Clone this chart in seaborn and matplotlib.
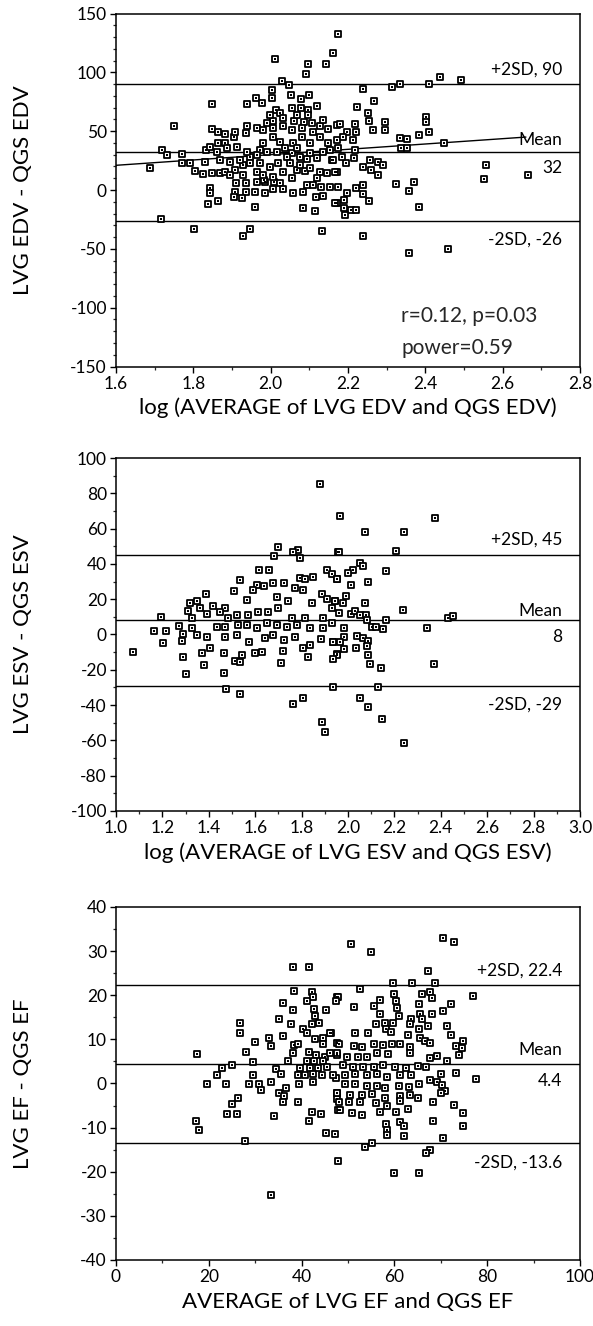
import matplotlib
matplotlib.use("Agg")
import matplotlib.pyplot as plt
import seaborn as sns
from matplotlib.ticker import MultipleLocator, FormatStrFormatter

# ---------------- Panel 1: EDV ----------------
edv_log_avg = [
    2.173, 2.162, 2.012, 2.097, 2.144, 2.092, 2.029, 2.048, 2.003, 2.100, 2.052, 2.079, 2.003, 1.962, 1.847, 1.940, 1.977, 2.013, 2.056, 2.079, 2.097, 2.119,
    1.750, 1.847, 2.007, 2.024, 2.060, 2.087, 2.107, 2.128, 2.149, 2.171, 1.990, 1.964, 1.936, 1.882, 1.905, 1.865, 1.882, 1.833, 1.718, 1.733, 1.770, 1.688,
    1.770, 1.791, 1.830, 1.804, 1.826, 1.847, 1.869, 1.882, 1.908, 1.928, 1.947, 1.972, 1.981, 2.005, 2.024, 2.037, 2.059, 2.081, 2.102, 2.128, 2.149, 2.171,
    2.054, 2.076, 2.093, 2.119, 2.158, 1.998, 2.031, 2.067, 2.089, 2.128, 2.145, 2.171, 1.910, 1.936, 1.964, 1.985, 2.008, 2.024, 1.964, 1.983, 1.843, 1.843,
    1.907, 1.936, 1.960, 1.985, 2.007, 2.033, 2.059, 2.083, 2.093, 2.110, 2.129, 2.153, 2.173, 1.905, 1.926, 2.117, 2.136, 1.838, 1.863, 1.960, 2.084, 2.114,
    2.172, 1.716, 1.803, 1.928, 1.946, 2.132,
    1.860, 1.886, 1.912, 1.938, 1.964, 1.990, 2.016, 2.041, 2.067, 2.102, 2.136, 2.153, 1.869, 1.895, 1.921, 1.947, 1.972, 2.019, 2.050, 2.076, 2.102,
    1.895, 1.929, 1.981, 2.007, 2.054, 2.119, 1.865, 1.907, 1.938, 2.033, 2.054, 2.081, 2.110, 2.007, 1.981, 1.998, 2.097, 2.067, 2.136, 2.033, 1.843,
    2.238, 2.313, 2.334, 2.410, 2.437, 2.491, 2.222, 2.268, 2.251, 2.255, 2.265, 2.295, 2.295, 2.403, 2.401, 2.384, 2.410, 2.334, 2.353, 2.338, 2.353, 2.447,
    2.180, 2.218, 2.197, 2.221, 2.186, 2.214, 2.175, 2.218, 2.162, 2.195, 2.215, 2.184, 2.166, 2.238, 2.258, 2.278, 2.291, 2.259, 2.278, 2.556, 2.551, 2.666,
    2.325, 2.371, 2.357, 2.221, 2.240, 2.197, 2.238, 2.255, 2.166, 2.189, 2.189, 2.209, 2.220, 2.192, 2.384, 2.238, 2.357, 2.459,
]
edv_diff = [
    132.4, 116.3, 111.5, 107.2, 107.2, 98.4, 92.7, 89.6, 85.0, 80.8, 81.1, 77.7, 78.0, 78.0, 73.2, 73.2, 73.8, 68.2, 69.6, 69.4, 68.2, 71.0,
    54.5, 52.0, 59.0, 65.2, 59.0, 58.1, 56.7, 54.7, 52.0, 55.3, 56.7, 53.0, 48.2, 47.4, 45.4, 39.8, 39.8, 34.1, 34.1, 29.8, 30.4, 19.0,
    22.7, 22.7, 23.5, 16.5, 13.7, 14.8, 14.3, 15.6, 17.1, 21.3, 28.3, 34.1, 39.8, 45.4, 41.2, 35.5, 39.8, 45.4, 39.8, 45.4, 39.8, 42.6,
    31.2, 28.3, 26.1, 27.0, 25.6, 19.9, 15.1, 17.1, 16.5, 15.6, 14.3, 15.6, 5.7, 6.2, 7.1, 7.1, 7.1, 6.2, 15.1, 8.5, 1.5, -2.8,
    -1.4, -1.4, -1.4, -2.8, 0.6, 0.6, -2.8, -1.4, 4.3, 4.3, 2.9, 2.9, 2.9, -5.6, -7.1, -6.2, -5.1, -11.9, -9.6, -14.1, -15.6, -18.1,
    -10.7, -24.6, -33.1, -39.1, -33.1, -34.6,
    32.7, 35.5, 36.9, 32.7, 29.8, 32.7, 32.7, 28.3, 35.5, 31.2, 32.7, 34.1, 25.6, 24.2, 25.6, 22.7, 22.7, 22.7, 22.7, 21.3, 18.5,
    12.8, 12.8, 12.8, 11.4, 10.0, 10.0, 49.7, 49.7, 54.0, 54.0, 51.1, 52.5, 49.7, 52.5, 51.1, 63.9, 63.9, 63.9, 59.6, 61.0, 36.9,
    85.7, 87.9, 90.2, 90.0, 95.9, 93.1, 70.4, 75.5, 65.3, 59.0, 51.1, 58.2, 51.1, 61.9, 58.2, 46.9, 49.1, 44.0, 43.2, 35.5, 36.1, 39.8,
    56.2, 56.2, 49.7, 49.7, 45.4, 42.6, 35.5, 34.1, 25.6, 22.7, 27.0, 28.3, 15.6, 19.9, 25.6, 24.2, 21.3, 17.1, 12.8, 21.3, 9.4, 12.8,
    5.2, 6.6, -0.5, 2.1, 4.3, -2.2, -3.4, -9.3, -10.7, -8.4, -15.5, -17.0, -17.0, -21.3, -14.1, -38.7, -53.2, -50.1,
]
edv_stats = [90, 32, -26]          # +2SD, mean, -2SD
edv_trend_x = [1.6, 2.66]
edv_trend_y = [21, 45]

# ---------------- Panel 2: ESV ----------------
esv_log_avg = [
    1.879, 1.966, 1.697, 1.681, 1.783, 1.793, 1.762, 1.955, 1.615, 1.658,
    1.533, 1.606, 1.678, 1.724, 1.793, 1.815, 1.848, 1.908, 1.930, 1.951,
    1.386, 1.319, 1.351, 1.420, 1.469, 1.509, 1.563, 1.592, 1.638, 1.693,
    1.743, 1.772, 1.805, 1.843, 1.886, 1.911, 1.945, 1.312, 1.326, 1.362,
    1.394, 1.448, 1.483, 1.520, 1.570, 1.614, 1.657, 1.700, 1.757, 1.815,
    1.894, 1.194, 1.164, 1.216, 1.201, 1.075, 1.273, 1.326, 1.289, 1.351,
    1.394, 1.434, 1.470, 1.527, 1.563, 1.606, 1.649, 1.693, 1.736, 1.779,
    1.836, 1.894, 1.283, 1.405, 1.470, 1.520, 1.575, 1.642, 1.678, 1.722,
    1.773, 1.807, 1.836, 1.882, 1.934, 1.287, 1.369, 1.466, 1.542, 1.599,
    1.631, 1.718, 1.829, 1.951, 1.379, 1.513, 1.535, 1.711, 1.302, 1.466,
    1.473, 1.534, 1.761, 1.805, 1.937, 1.887, 1.902,
    2.073, 2.243, 2.375, 1.961, 2.205, 2.052, 2.066, 2.020, 2.001, 2.162,
    1.951, 2.088, 2.013, 1.992, 1.944, 1.977, 2.073, 2.236, 1.930, 1.963,
    2.012, 2.030, 2.052, 2.078, 2.080, 2.163, 2.432, 2.451, 1.930, 1.983,
    2.102, 2.121, 2.153, 2.339, 1.983, 2.037, 2.066, 2.088, 1.937, 1.966,
    1.983, 2.034, 2.080, 1.954, 1.937, 2.088, 2.095, 2.141, 2.371, 2.131,
    2.052, 2.088, 2.146, 2.243,
]
esv_diff = [
    85.3, 66.9, 49.3, 44.6, 48.0, 43.3, 47.0, 46.7, 36.4, 36.4,
    30.6, 28.2, 29.1, 29.1, 31.9, 31.5, 32.3, 36.6, 34.2, 31.5,
    22.9, 17.8, 18.7, 16.3, 14.9, 24.7, 19.7, 25.3, 27.2, 21.5,
    18.7, 26.2, 25.3, 17.8, 22.9, 20.2, 18.7, 13.4, 9.2, 14.9,
    11.5, 13.0, 9.2, 11.1, 11.1, 13.0, 13.0, 14.9, 9.2, 9.2,
    9.2, 9.8, 2.2, 2.2, -4.6, -9.7, 4.8, 3.9, 0.1, -0.2,
    -1.2, 4.5, 4.5, 5.4, 5.1, 3.9, 6.4, 5.1, 4.5, 5.4,
    3.6, 3.6, -3.6, -7.4, -1.2, -0.2, -4.5, -2.1, -0.2, -3.1,
    -1.2, -7.8, -5.9, -2.5, -4.4, -12.5, -10.6, -10.6, -11.6, -10.6,
    -10.2, -9.3, -12.5, -11.2, -17.3, -15.0, -15.4, -16.3, -22.2, -22.0,
    -31.1, -33.9, -39.6, -36.2, -29.6, -49.4, -55.3,
    57.9, 57.9, 66.0, 46.5, 47.1, 40.5, 38.6, 36.3, 34.8, 35.7,
    31.5, 29.7, 27.8, 21.9, 18.7, 17.8, 18.1, 13.9, 14.9, 12.0,
    11.5, 13.4, 11.1, 11.1, 8.3, 8.3, 9.2, 10.2, 6.4, 3.6,
    4.1, 4.1, 3.2, 3.6, -1.2, -0.6, -2.1, -3.6, -4.0, -4.0,
    -8.2, -7.4, -6.3, -11.6, -13.9, -11.6, -16.9, -18.8, -16.9, -30.0,
    -35.8, -40.9, -47.6, -61.2,
]
esv_stats = [45, 8, -29]

# ---------------- Panel 3: EF ----------------
ef_avg = [
    38.1, 41.5, 38.4, 42.2, 42.5, 41.1, 47.6, 35.9, 38.1, 42.7,
    45.2, 35.2, 42.9, 37.7, 42.2, 43.8, 26.7, 26.7, 40.2, 41.1,
    46.3, 30.0, 33.0, 33.3, 35.9, 38.4, 39.3, 42.9, 44.7, 44.7,
    47.6, 17.5, 28.0, 29.6, 38.1, 37.0, 41.7, 43.2, 45.0, 46.1,
    47.6, 41.1, 42.7, 44.7, 25.1, 22.9, 21.8, 19.7, 23.8, 34.5,
    35.6, 39.7, 41.8, 43.6, 45.5, 39.2, 40.7, 42.5, 44.3, 29.6,
    28.7, 30.9, 33.3, 39.5, 42.5, 47.4, 31.2, 36.6, 35.2, 36.2,
    35.9, 39.3, 47.6, 47.6, 26.4, 25.1, 24.0, 26.0, 34.1, 42.2,
    44.1, 41.5, 47.8, 17.2, 17.9, 27.8, 45.2, 47.1, 47.9, 33.3,
    50.6, 54.9, 70.4, 72.9, 67.3, 59.8, 63.7, 68.7, 52.6, 59.9,
    65.9, 67.7, 68.0, 77.0, 47.9, 47.4, 51.2, 56.9, 55.5, 60.3,
    60.5, 65.4, 65.5, 68.0, 70.5, 72.1, 60.9, 56.9, 56.0, 57.9,
    59.8, 63.6, 65.9, 63.4, 65.2, 67.3, 71.3, 58.1, 59.2, 51.5,
    54.4, 63.0, 72.2, 65.5, 66.6, 67.7, 74.8, 73.3, 74.5, 74.0,
    46.1, 48.1, 51.2, 53.0, 55.5, 57.6, 59.4, 61.3, 63.4, 56.2,
    58.7, 63.4, 67.7, 69.2, 71.3, 47.6, 49.7, 52.2, 54.0, 49.0,
    51.1, 53.3, 55.5, 57.6, 60.1, 62.6, 65.1, 66.9, 46.8, 49.4,
    51.5, 54.0, 56.2, 58.3, 61.3, 63.5, 73.3, 77.6, 70.1, 67.7,
    69.2, 70.3, 49.4, 51.5, 54.0, 56.2, 57.9, 60.9, 63.2, 65.4,
    70.9, 70.1, 47.7, 50.4, 53.0, 55.1, 57.9, 61.2, 63.4, 65.1,
    48.1, 50.3, 52.6, 56.0, 58.3, 61.2, 62.9, 68.4, 72.9, 74.7,
    48.3, 50.8, 53.0, 56.9, 60.3, 58.2, 61.3, 62.1, 58.3, 58.5,
    62.1, 68.4, 74.7, 70.4, 55.1, 53.7, 67.7, 66.9, 59.9, 65.4,
]
ef_diff = [
    26.5, 26.5, 21.0, 20.8, 19.5, 18.6, 19.6, 18.2, 16.7, 16.9,
    16.7, 14.6, 15.4, 13.4, 13.4, 13.8, 13.8, 11.4, 12.3, 11.5,
    11.5, 9.4, 10.3, 8.6, 10.7, 8.8, 9.0, 10.0, 10.3, 9.0,
    9.2, 6.6, 7.1, 4.9, 6.9, 5.2, 7.1, 6.5, 6.1, 6.9,
    6.5, 5.1, 5.1, 5.1, 4.2, 3.6, 1.9, -0.2, -0.2, 3.2,
    2.2, 3.4, 3.6, 3.6, 3.8, 2.0, 1.9, 2.2, 1.9, 1.9,
    -0.1, -0.1, 0.3, -0.1, 0.3, 1.3, -1.4, -1.0, -2.2, -2.8,
    -4.2, -4.2, -2.2, -3.6, -3.3, -4.6, -7.0, -7.0, -7.3, -6.5,
    -6.9, -8.6, -6.1, -8.6, -10.5, -13.0, -11.3, -11.5, -17.6, -25.3,
    31.7, 29.7, 32.9, 32.1, 25.4, 22.7, 22.7, 22.7, 21.4, 20.2,
    20.2, 20.8, 19.4, 19.8, 19.6, 18.8, 17.3, 19.0, 17.5, 18.7,
    17.1, 17.9, 15.8, 15.8, 16.4, 17.9, 15.4, 15.8, 13.4, 13.8,
    13.8, 14.6, 14.6, 13.4, 12.3, 13.1, 13.1, 12.3, 11.7, 11.4,
    11.5, 11.0, 10.9, 10.2, 9.6, 9.2, 9.6, 8.6, 8.0, 6.5,
    11.5, 9.0, 8.4, 8.3, 9.0, 8.8, 9.0, 9.0, 8.3, 6.9,
    6.6, 6.9, 5.7, 6.3, 5.1, 6.9, 6.1, 6.1, 6.1, 4.2,
    3.8, 3.8, 3.8, 4.2, 3.8, 3.5, 4.0, 3.8, 1.9, 2.0,
    2.2, 1.9, 2.2, 1.5, 2.0, 2.0, 2.4, 1.1, 2.2, 0.7,
    0.3, -0.3, -0.1, -0.1, -0.5, -0.5, -1.1, -0.5, -0.9, -0.1,
    -1.6, -2.2, -2.2, -2.6, -2.6, -2.4, -3.2, -2.8, -2.6, -3.2,
    -4.2, -4.3, -4.2, -4.5, -5.0, -3.9, -5.7, -4.1, -4.9, -6.8,
    -6.0, -6.8, -7.2, -6.5, -6.5, -9.1, -8.8, -9.6, -10.5, -11.7,
    -11.8, -8.6, -9.6, -12.4, -13.6, -14.5, -15.1, -15.7, -20.3, -20.3,
]
ef_stats = [22.4, 4.4, -13.6]

# label texts
edv_labels = ["+2SD, 90", "Mean", "32", "-2SD, -26"]
esv_labels = ["+2SD, 45", "Mean", "8", "-2SD, -29"]
ef_labels = ["+2SD, 22.4", "Mean", "4.4", "-2SD, -13.6"]

sns.set_style("ticks")
plt.rcParams["font.family"] = ["Lato", "DejaVu Sans"]
plt.rcParams["axes.linewidth"] = 1.1
plt.rcParams["axes.unicode_minus"] = False

fig = plt.figure(figsize=(5.93, 13.26), dpi=100)
L, W, H = 0.1956, 0.7825, 0.2662
bottoms = [0.7236, 0.3884, 0.0498]

TICK_FS = 12.5
LAB_FS = 16
ANN_FS = 12.5


def draw_panel(ax, x, y, stats, labels, label_y, xlim, ylim, xmaj, xmin, ymaj, ymin,
               xfmt, xlabel, ylabel):
    for v in stats:
        ax.axhline(v, color="black", lw=1.0, zorder=2)
    sns.scatterplot(x=x, y=y, ax=ax, marker="s", s=22, color="white",
                    edgecolor="black", linewidth=1.3, zorder=3, legend=False)
    sns.scatterplot(x=x, y=y, ax=ax, marker="s", s=1.5, color="black",
                    linewidth=0, zorder=4, legend=False)
    ax.set_xlim(*xlim)
    ax.set_ylim(*ylim)
    ax.xaxis.set_major_locator(MultipleLocator(xmaj))
    ax.xaxis.set_minor_locator(MultipleLocator(xmin))
    ax.yaxis.set_major_locator(MultipleLocator(ymaj))
    ax.yaxis.set_minor_locator(MultipleLocator(ymin))
    ax.xaxis.set_major_formatter(FormatStrFormatter(xfmt))
    ax.tick_params(which="major", direction="out", length=4.5, width=1.0,
                   labelsize=TICK_FS, pad=2, colors="black")
    ax.tick_params(which="minor", direction="out", length=2.5, width=0.9)
    for sp in ax.spines.values():
        sp.set_visible(True)
        sp.set_color("black")
    trans = ax.get_yaxis_transform()
    for txt, yy in zip(labels, label_y):
        ax.text(0.962, yy, txt, transform=trans, ha="right", va="center",
                fontsize=ANN_FS, color="black", zorder=5)
    ax.set_xlabel(xlabel, fontsize=LAB_FS, color="black", va="center")
    ax.set_ylabel(ylabel, fontsize=LAB_FS, color="black", va="center")
    ax.xaxis.set_label_coords(0.5, -0.118)
    ax.yaxis.set_label_coords(-0.20, 0.5)


ax1 = fig.add_axes([L, bottoms[0], W, H])
draw_panel(ax1, edv_log_avg, edv_diff, edv_stats, edv_labels,
           [102, 42.5, 18.5, -42], (1.6, 2.8), (-150, 150), 0.2, 0.1, 50, 10,
           "%.1f", "log (AVERAGE of LVG EDV and QGS EDV)", "LVG EDV - QGS EDV")
sns.lineplot(x=edv_trend_x, y=edv_trend_y, ax=ax1, color="black", lw=1.0, zorder=2)
ax1.text(0.615, 0.125, "r=0.12, p=0.03", transform=ax1.transAxes, fontsize=15,
         ha="left", va="baseline")
ax1.text(0.615, 0.035, "power=0.59", transform=ax1.transAxes, fontsize=15,
         ha="left", va="baseline")

ax2 = fig.add_axes([L, bottoms[1], W, H])
draw_panel(ax2, esv_log_avg, esv_diff, esv_stats, esv_labels,
           [53.5, 13.5, -1.5, -40], (1.0, 3.0), (-100, 100), 0.2, 0.1, 20, 10,
           "%.1f", "log (AVERAGE of LVG ESV and QGS ESV)", "LVG ESV - QGS ESV")

ax3 = fig.add_axes([L, bottoms[2], W, H])
draw_panel(ax3, ef_avg, ef_diff, ef_stats, ef_labels,
           [25.6, 7.6, 0.6, -18], (0, 100), (-40, 40), 20, 10, 10, 5,
           "%d", "AVERAGE of LVG EF and QGS EF", "LVG EF - QGS EF")

fig.savefig("out.png", dpi=100, facecolor="white")
